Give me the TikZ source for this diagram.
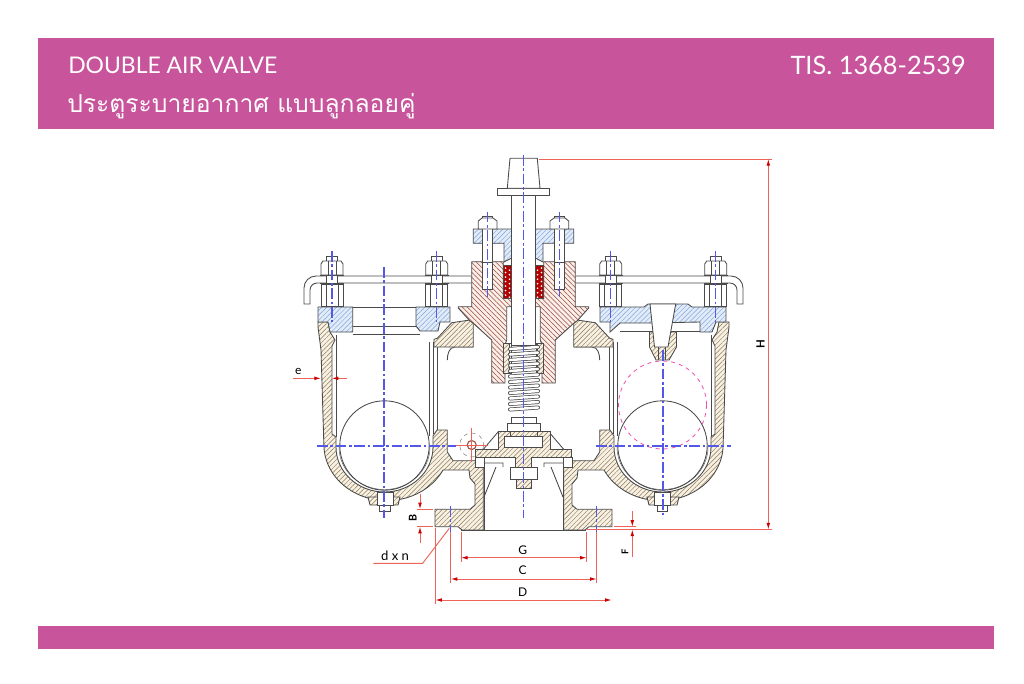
\documentclass[tikz,border=0pt]{standalone}
\usepackage{fontspec}
\setmainfont{Lato}
\newfontfamily\thaifont[Script=Thai]{Loma}
\usepackage{tikz}
\usetikzlibrary{arrows.meta,patterns.meta,positioning}
\definecolor{bandpink}{HTML}{C8559B}
\definecolor{linegray}{HTML}{4A4A4A}
\definecolor{tanfill}{HTML}{F8F1E2}
\definecolor{tanline}{HTML}{8A775A}
\definecolor{bluefill}{HTML}{E2ECF8}
\definecolor{blueline}{HTML}{7FA3DC}
\definecolor{brownfill}{HTML}{FAEEE8}
\definecolor{brownline}{HTML}{9A4A3E}
\definecolor{axisblue}{HTML}{5458E6}
\definecolor{dimred}{HTML}{EC6459}
\tikzset{
  part/.style={draw=linegray, line width=.65pt},
  plain/.style={part, fill=white},
  tanpart/.style={part, preaction={fill=tanfill}, pattern={Lines[angle=45,distance=2.5pt,line width=.35pt]}, pattern color=tanline},
  brownpart/.style={part, preaction={fill=brownfill}, pattern={Lines[angle=-45,distance=2.6pt,line width=.4pt]}, pattern color=brownline},
  bluepart/.style={part, preaction={fill=bluefill}, pattern={Lines[angle=45,distance=2.6pt,line width=.35pt]}, pattern color=blueline},
  axis/.style={draw=axisblue, line width=.9pt, dash pattern=on 8pt off 2pt on 2pt off 2pt},
  dimline/.style={draw=dimred, line width=.7pt},
  dimarrow/.style={dimline, {Latex[length=5pt,width=2.8pt,red!80!black]}-{Latex[length=5pt,width=2.8pt,red!80!black]}},
  oneway/.style={dimline, -{Latex[length=5pt,width=2.8pt,red!80!black]}},
  band/.style={fill=bandpink, draw=none},
  headtext/.style={text=white, inner sep=0pt},
  dimtext/.style={text=black, font=\fontsize{9pt}{10pt}\selectfont, inner sep=0pt},
}
\newcommand{\studbolt}[1]{
  \draw[plain] (#1-5.5,256) rectangle (#1+5.5,306);
  \draw[plain] (#1-11,264) -- (#1-9,261) -- (#1+9,261) -- (#1+11,264) -- (#1+11,275) -- (#1-11,275) -- cycle;
  \draw[part] (#1-4,261) -- (#1-4,275) (#1+4,261) -- (#1+4,275);
  \draw[plain] (#1-11,284) rectangle (#1+11,306);
  \draw[part] (#1-6,284) -- (#1-6,306) (#1+6,284) -- (#1+6,306);
  \draw[part, line width=.9pt] (#1-12,275.5) -- (#1+12,275.5) (#1-12,283.5) -- (#1+12,283.5);
  \draw[axis] (#1,251) -- (#1,322);
}
\newcommand{\halfbody}{
  \draw[plain] (471,276) -- (316,276) arc[start angle=270,end angle=180,radius=12] -- (304,304) -- (310,304) -- (310,290) arc[start angle=180,end angle=270,radius=7] -- (471,283);
  \draw[tanpart] (318,322) -- (328,322) -- (330,332) -- (335,340) -- (332,346) -- (332,434) -- (336,437) -- (336,447)
    arc[start angle=180,end angle=0,x radius=48.5,y radius=45] -- (433,436) -- (437,430) -- (447.3,430) -- (447.3,452)
    to[out=90,in=180,looseness=0] (453,460.7) -- (475,460.7) -- (483.3,456) -- (483.3,530) -- (462,530) -- (458,526.7) -- (435,526.7) -- (435,509.3)
    -- (470,509.3) -- (475,505) -- (475,484) -- (470,478) -- (469,470) -- (443,470)
    arc[start angle=27,end angle=180,x radius=63,y radius=56] -- (321,350) -- (318,327) -- cycle;
  \draw[tanpart] (368,497) -- (370,505) -- (398,505) -- (400,497) -- cycle;
  \draw[plain] (377,492) rectangle (393,505);
  \draw[plain] (379.5,505) rectangle (390,511);
  \draw[part] (336,335) -- (336,437) (429.3,342) -- (429.3,436) (433.3,342) -- (433.3,434) (437.3,342) -- (437.3,430);
  \draw[part] (447.3,360) to[out=90,in=180] (455,347) -- (473,347);
  \draw[plain] (384.5,445.5) circle[radius=44.7];
  \draw[part, line width=.3pt] (339,447) arc[start angle=180,end angle=0,x radius=45.5,y radius=42.5];
  \draw[tanpart] (434,347) -- (434,339.3) -- (437.3,338.3) -- (451.7,322.7) -- (470,320) -- (473.3,323.3) -- (473.3,347) -- cycle;
  \draw[brownpart] (471.7,261.7) -- (503.3,261.7) -- (503.3,298.3) -- (511.7,298.3) -- (511.7,306.7) -- (506.7,306.7) -- (506.7,340) -- (505,345) -- (505,383) -- (491.7,383) -- (491.7,340) -- (473,323) -- (470,321) -- (458.3,308) -- (458.3,306.7) -- (471.7,306.7) -- cycle;
  \draw[plain, line width=.9pt] (482.7,261.7) rectangle (492.7,289.3);
  \draw[part, fill=red!70!black] (503.3,265) rectangle (511.7,298.3);
  \foreach \py in {268,272.5,...,296} {
    \fill[white] (505.6,\py) circle[radius=.9] (509.4,\py+2.2) circle[radius=.9];
  }
  \draw[bluepart] (473.3,229) -- (511.7,229) -- (511.7,258) -- (504,262) -- (504,243.3) -- (473.3,243.3) -- cycle;
  \draw[plain] (482.7,216) rectangle (492.7,262);
  \draw[plain] (478.3,229) -- (478.3,221) -- (482,218) -- (493,218) -- (497,221) -- (497,229) -- cycle;
  \draw[plain] (503.3,343.3) rectangle (511,373.3);
  \draw[tanpart] (503.3,343.3) rectangle (509.5,373.3);
  \draw[plain] (484,457) rectangle (475,467.3);
  \draw[part] (484,463) -- (503,463) -- (503,467) (496,467) -- (484,497);
  \draw[part] (484,457.3) -- (484,530);
  \draw[part] (498.3,431.7) -- (483.3,449.3);
}
\begin{document}
\begin{tikzpicture}[x=.75pt, y=-.75pt]
  \useasboundingbox (0,0) rectangle (1024,683);
  \fill[band] (38,38) rectangle (994,129);
  \fill[band] (38,626) rectangle (994,649);
  \node[headtext, anchor=west, font=\fontsize{17.2pt}{20pt}\selectfont] (titleEn) at (68,65) {DOUBLE AIR VALVE};
  \node[headtext, anchor=west, font=\fontsize{18.5pt}{20pt}\selectfont] (titleTh) at (67,106) {\thaifont ประตูระบายอากาศ แบบลูกลอยคู่};
  \node[headtext, anchor=east, font=\fontsize{19pt}{20pt}\selectfont] (standard) at (966,65) {TIS. 1368-2539};

  \halfbody
  \begin{scope}[xshift=785.25pt, xscale=-1]
    \halfbody
  \end{scope}

  \draw[part] (461,530) -- (586,530);
  \draw[plain] (511.7,195) rectangle (535.3,345);
  \draw[plain] (497.3,188.3) rectangle (549.3,195);
  \draw[plain] (507.3,188.3) -- (510,158.3) -- (537.3,158.3) -- (540,188.3) -- cycle;
  \foreach \sy in {348,353.5,...,412} {
    \draw[linegray, line width=3pt, line cap=round] (510,\sy+1) -- (538,\sy-1);
    \draw[white, line width=1.9pt, line cap=round] (510,\sy+1) -- (538,\sy-1);
  }
  \draw[plain] (511.7,417) rectangle (536.7,423);
  \draw[plain] (507.3,423) rectangle (540.7,431.7);
  \draw[tanpart] (498.3,431.7) -- (550,431.7) -- (550,449.3) -- (571.7,449.3) -- (571.7,457.3) -- (531.7,457.3) -- (531.7,467.3) -- (515,467.3) -- (515,457.3) -- (475,457.3) -- (475,449.3) -- (498.3,449.3) -- cycle;
  \draw[plain] (504,436) rectangle (542.7,447);
  \draw[part] (510,431.7) -- (510,436) (537,431.7) -- (537,436);
  \draw[plain] (510,467.3) rectangle (537.3,479.3);
  \draw[tanpart] (516,479.3) rectangle (531.7,488.3);

  \draw[bluepart] (318,307) -- (352.7,307) -- (352.7,332) -- (330,332) -- (328,322) -- (318,322) -- cycle;
  \draw[bluepart] (416,307) -- (450,307) -- (450,322) -- (440,322) -- (438,331) -- (420,331) -- (416,326) -- cycle;
  \draw[part] (352.7,307) -- (416,307) (352.7,326.7) -- (416,326.7) (352.7,334) -- (420,334);
  \draw[bluepart] (600,307) -- (644,307) -- (648,304) -- (688,304) -- (692,307) -- (726,307) -- (726,322) -- (716,322) -- (712,332) -- (700,332) -- (700,322) -- (650,323) -- (620,323) -- (610,332) -- (610,322) -- (600,322) -- cycle;
  \draw[part] (620,331.7) -- (700,331.7);
  \draw[tanpart] (649.5,332) -- (649.5,347) -- (656,360) -- (669,360) -- (676.5,347) -- (676.5,332) -- cycle;
  \draw[plain] (650,304) -- (654.5,347) -- (668,347) -- (675.7,304) -- cycle;
  \draw[part] (658,347) -- (658,360) (665,347) -- (665,360);
  \draw[draw=magenta!70, line width=.6pt, dashed] (662.5,405) circle[radius=44];

  \foreach \bx in {332,436.7,610.7,715.7} {
    \studbolt{\bx}
  }
  \draw[axis] (523.7,155) -- (523.7,518);
  \draw[axis] (384,267) -- (384,518);
  \draw[axis] (663,350) -- (663,518);
  \draw[axis] (317,446) -- (456,446);
  \draw[axis] (596,446) -- (731,446);
  \draw[axis] (450.7,506) -- (450.7,533);
  \draw[axis] (596.7,506) -- (596.7,533);
  \draw[axis] (487.7,211.7) -- (487.7,296.7);
  \draw[axis] (559.3,211.7) -- (559.3,296.7);

  \draw[gray, line width=.4pt, dashed] (471.7,445) circle[radius=12];
  \draw[part, draw=brownline, line width=.8pt] (471.7,445) circle[radius=4.5];
  \draw[dimline] (456,445) -- (488,445) (471.7,428) -- (471.7,462);

  \coordinate (hTop) at (768.3,159);
  \coordinate (hBot) at (768.3,529.5);
  \draw[dimline] (539,159) -- (772,159) (587,529.5) -- (772,529.5);
  \draw[dimarrow] (hTop) -- (hBot);
  \node[dimtext, rotate=90, font=\bfseries\fontsize{8.5pt}{10pt}\selectfont] (dimH) at (760.5,344) {H};

  \coordinate (fTop) at (632.3,526.7);
  \coordinate (fBot) at (632.3,529.5);
  \draw[dimline] (614,526.7) -- (636,526.7);
  \draw[oneway] (632.3,511) -- (fTop);
  \draw[oneway] (632.3,556.7) -- (fBot);
  \node[dimtext, rotate=90, font=\bfseries\fontsize{7pt}{8pt}\selectfont] (dimF) at (625,552) {F};

  \coordinate (bTop) at (420,509.3);
  \coordinate (bBot) at (420,526.7);
  \draw[dimline] (416.7,509.3) -- (433,509.3) (416.7,526.7) -- (433,526.7);
  \draw[oneway] (420,494) -- (bTop);
  \draw[oneway] (420,542.7) -- (bBot);
  \node[dimtext, rotate=90, font=\bfseries\fontsize{8pt}{9pt}\selectfont] (dimB) at (412.7,518.3) {B};

  \coordinate (eLeft) at (321,378.3);
  \coordinate (eRight) at (331.7,378.3);
  \draw[oneway] (293.3,378.3) -- (eLeft);
  \draw[oneway] (347.3,378.3) -- (eRight);
  \node[dimtext] (dimE) at (298.3,371) {e};

  \coordinate (holeEnd) at (449.3,528.3);
  \draw[dimline] (373.3,563.3) -- (422.7,563.3) -- (holeEnd);
  \node[dimtext, font=\fontsize{9.8pt}{11pt}\selectfont] (dimHole) at (395,555.7) {d x n};

  \foreach \dn/\xa/\xb/\yy/\yt in {G/461/586.7/557.7/550, C/450.7/596.7/579/570.5} {
    \coordinate (d\dn L) at (\xa,\yy);
    \coordinate (d\dn R) at (\xb,\yy);
    \draw[dimline] (\xa,531.5) -- (\xa,\yy+4) (\xb,531.5) -- (\xb,\yy+4);
    \draw[dimarrow] (d\dn L) -- (d\dn R);
    \node[dimtext] at (522.7,\yt) {\dn};
  }
  \coordinate (dDL) at (435.3,600);
  \coordinate (dDR) at (611.7,600);
  \draw[dimline] (435.3,528) -- (435.3,604);
  \draw[dimarrow] (dDL) -- (dDR);
  \node[dimtext] (dimD) at (522.7,592) {D};
\end{tikzpicture}
\end{document}
